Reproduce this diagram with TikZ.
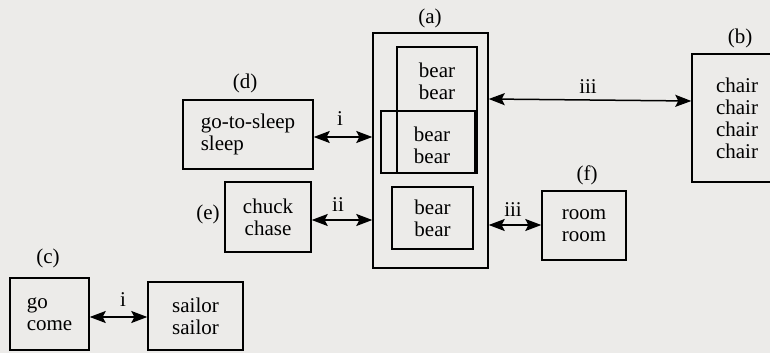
\documentclass[tikz,border=0pt]{standalone}
\usepackage{fontspec}
\setmainfont{Liberation Serif}
\usetikzlibrary{arrows.meta}
\definecolor{paper}{RGB}{236,235,233}
\begin{document}
\begin{tikzpicture}[x=1pt,y=-1pt,
  box/.style={draw, line width=1.4pt, inner sep=0pt},
  txt/.style={font=\fontsize{21}{22}\selectfont, align=center, inner sep=0pt},
  lab/.style={font=\fontsize{21}{22}\selectfont, inner sep=0pt},
  dbl/.style={line width=1.5pt, {Stealth[length=16pt,width=12pt,inset=3pt]}-{Stealth[length=16pt,width=12pt,inset=3pt]}}]
\fill[paper] (0,0) rectangle (770,353);
\useasboundingbox (0,0) rectangle (770,353);
\clip (0,0) rectangle (770,353);
% (a)
\node[box, minimum width=115pt, minimum height=235pt] (A) at (430.5,150.5) {};
\node[box, minimum width=80pt, minimum height=126pt] (A1) at (437,110) {};
\node[txt] (A1t) at (437,81) {bear\\bear};
\node[box, minimum width=94pt, minimum height=62pt] (A2) at (428,142) {};
\node[txt] (A2t) at (432,145) {bear\\bear};
\node[box, txt, minimum width=81pt, minimum height=62pt] (A3) at (432.5,218) {bear\\bear};
% (b)
\node[box, txt, minimum width=90pt, minimum height=128pt] (B) at (737,118) {chair\\chair\\chair\\chair};
% (c)
\node[box, txt, align=left, minimum width=79pt, minimum height=72pt] (G) at (49.5,314) {go\\come};
\node[box, txt, minimum width=95pt, minimum height=68pt] (S) at (195.5,316) {sailor\\sailor};
% (d)
\node[box, txt, align=left, minimum width=130pt, minimum height=69pt] (D) at (248,134.5) {go-to-sleep\\sleep};
% (e)
\node[box, txt, minimum width=86pt, minimum height=70pt] (E) at (268,217) {chuck\\chase};
% (f)
\node[box, txt, minimum width=84pt, minimum height=69pt] (F) at (584,225.5) {room\\room};
% connectors
\draw[dbl] (D.east |- 0,137) -- (A.west |- 0,137);
\draw[dbl] (E.east |- 0,220) -- (A.west |- 0,220);
\draw[dbl] (A.east |- 0,99) -- (B.west |- 0,101);
\draw[dbl] (A.east |- 0,225) -- (F.west |- 0,225);
\draw[dbl] (G.east |- 0,317) -- (S.west |- 0,317);
% connector labels
\node[lab] (l1) at (340,119) {i};
\node[lab] (l2) at (338,205) {ii};
\node[lab] (l3) at (588,87) {iii};
\node[lab] (l4) at (513,210) {iii};
\node[lab] (l5) at (123,300) {i};
% figure labels
\node[lab] (la) at (430,18) {(a)};
\node[lab] (lb) at (740,38) {(b)};
\node[lab] (lc) at (48,258) {(c)};
\node[lab] (ld) at (245,83) {(d)};
\node[lab] (le) at (208,214) {(e)};
\node[lab] (lf) at (587,175) {(f)};
\end{tikzpicture}
\end{document}
